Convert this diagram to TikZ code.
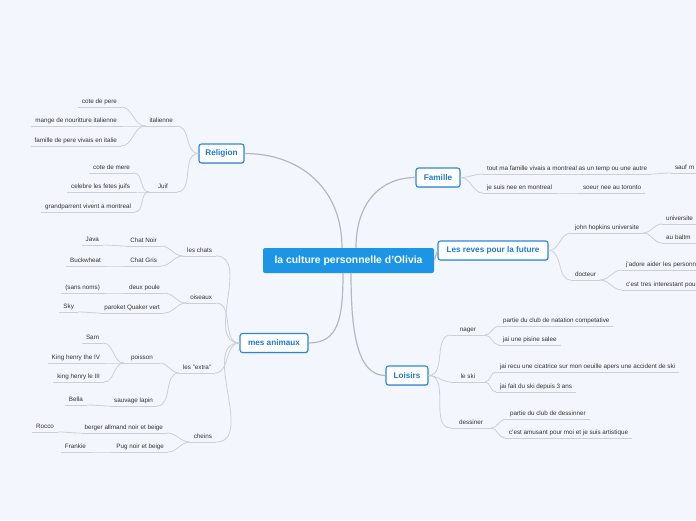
\documentclass[tikz,border=0pt]{standalone}
\usepackage{fontspec}
\setmainfont{Liberation Sans}
\usetikzlibrary{shadows}
\definecolor{bgc}{HTML}{F3F6FD}
\definecolor{cblue}{HTML}{1C95E7}
\definecolor{tborder}{HTML}{2C87DB}
\definecolor{ttext}{HTML}{1F7AD6}
\definecolor{mline}{HTML}{B4B8C2}
\definecolor{sline}{HTML}{CBCFD8}
\definecolor{txt}{HTML}{333333}
\tikzset{
  central/.style={fill=cblue, text=white, rounded corners=2pt, minimum width=171pt, minimum height=25pt, inner sep=0pt,
    font=\fontsize{10.4}{12}\selectfont\bfseries},
  topic/.style={draw=tborder, line width=1.1pt, fill=white, text=ttext, rounded corners=2.5pt, minimum height=19pt, inner sep=0pt,
    font=\fontsize{8.2}{10}\selectfont\bfseries, drop shadow={shadow xshift=0.4pt, shadow yshift=-0.9pt, opacity=0.25, fill=black!60}},
  uline/.style={draw=sline, line width=0.8pt},
  lab/.style={font=\fontsize{6.3}{7.5}\selectfont, text=txt, inner xsep=4pt, inner ysep=2.5pt, text height=4.8pt, text depth=1.5pt, outer sep=0pt,
    append after command={(\tikzlastnode.south west) edge[uline] (\tikzlastnode.south east)}},
  L/.style={lab, anchor=south east},
  R/.style={lab, anchor=south west},
  mconn/.style={draw=mline, line width=1.2pt},
  sconn/.style={draw=sline, line width=0.8pt},
}
\begin{document}
\begin{tikzpicture}[x=1pt,y=-1pt]
\useasboundingbox (0,0) rectangle (696,520);
\fill[bgc] (0,0) rectangle (696,520);
\clip (0,0) rectangle (696,520);

% central and main topics
\node[central] (center) at (348.5,260.5) {la culture personnelle d'Olivia};
\node[topic, minimum width=45pt] (religion) at (221.5,153.5) {Religion};
\node[topic, minimum width=44pt] (famille) at (438,177.5) {Famille};
\node[topic, minimum width=110pt] (reves) at (493,250.5) {Les reves pour la future};
\node[topic, minimum width=68pt] (animaux) at (274,343) {mes animaux};
\node[topic, minimum width=42pt] (loisirs) at (407,375.5) {Loisirs};

% main connectors
\draw[mconn] ([xshift=-6.5pt]center.north) .. controls +(0,-60) and +(55,0) .. (religion.east);
\draw[mconn] ([xshift=7.5pt]center.north) .. controls +(0,-45) and +(-35,0) .. (famille.west);
\draw[mconn] (center.east) -- (reves.west);
\draw[mconn] ([xshift=-5.5pt]center.south) .. controls +(0,45) and +(30,0) .. (animaux.east);
\draw[mconn] ([xshift=2.5pt]center.south) .. controls +(0,60) and +(-28,0) .. (loisirs.west);

% ---------- Religion ----------
\node[L] (g1) at (177,126) {italienne};
\node[L] (g1a) at (121,107) {cote de pere};
\node[L] (g1b) at (121,126) {mange de nouritture italienne};
\node[L] (g1c) at (121,146) {famille de pere vivais en italie};
\node[L, minimum width=28pt] (g2) at (177,192) {Juif};
\node[L] (g2a) at (134,173) {cote de mere};
\node[L] (g2b) at (134,192) {celebre les fetes juifs};
\node[L] (g2c) at (135,212) {grandparrent vivent a montreal};
\draw[sconn] (religion.west) to[out=180,in=0] (g1.south east);
\draw[sconn] (religion.west) to[out=180,in=0] (g2.south east);
\foreach \c in {g1a,g1b,g1c} \draw[sconn] (g1.south west) to[out=180,in=0] (\c.south east);
\foreach \c in {g2a,g2b,g2c} \draw[sconn] (g2.south west) to[out=180,in=0] (\c.south east);

% ---------- mes animaux ----------
\node[L] (a1) at (216,256) {les chats};
\node[L] (a1a) at (161,246) {Chat Noir};
\node[L] (a1a1) at (103,245) {Java};
\node[L] (a1b) at (161,266) {Chat Gris};
\node[L] (a1b1) at (105,266) {Buckwheat};
\node[L] (a2) at (216,303) {oiseaux};
\node[L] (a2a) at (164,293) {deux poule};
\node[L] (a2a1) at (104,293) {(sans noms)};
\node[L] (a2b) at (164,313) {paroket Quaker vert};
\node[L] (a2b1) at (78,312) {Sky};
\node[L] (a3) at (215,373) {les "extra"};
\node[L, minimum width=36pt] (a3a) at (160,363) {poisson};
\node[L] (a3a1) at (103,343) {Sam};
\node[L] (a3a2) at (104,363) {King henry the IV};
\node[L] (a3a3) at (104,382) {king henry le III};
\node[L] (a3b) at (157,406) {sauvage lapin};
\node[L] (a3b1) at (87,405) {Bella};
\node[L] (a4) at (216,442) {cheins};
\node[L] (a4a) at (167,433) {berger allmand noir et beige};
\node[L] (a4a1) at (58,432) {Rocco};
\node[L] (a4b) at (168,452) {Pug noir et beige};
\node[L] (a4b1) at (90,452) {Frankie};
\foreach \c in {a1,a2,a3,a4} \draw[sconn] (animaux.west) to[out=180,in=0] (\c.south east);
\foreach \p/\c in {a1/a1a,a1/a1b,a1a/a1a1,a1b/a1b1,a2/a2a,a2/a2b,a2a/a2a1,a2b/a2b1,a3/a3a,a3/a3b,a3a/a3a1,a3a/a3a2,a3a/a3a3,a3b/a3b1,a4/a4a,a4/a4b,a4a/a4a1,a4b/a4b1}
  \draw[sconn] (\p.south west) to[out=180,in=0] (\c.south east);

% ---------- Famille ----------
\node[R] (f1) at (483,174) {tout ma famille vivais a montreal as un temp ou une autre};
\node[R, text width=40pt, align=left] (f1a) at (671,173) {sauf m};
\node[R] (f2) at (483,193) {je suis nee en montreal};
\node[R] (f2a) at (579,193) {soeur nee au toronto};
\foreach \c in {f1,f2} \draw[sconn] (famille.east) to[out=0,in=180] (\c.south west);
\draw[sconn] (f1.south east) to[out=0,in=180] (f1a.south west);
\draw[sconn] (f2.south east) to[out=0,in=180] (f2a.south west);

% ---------- Reves ----------
\node[R] (r1) at (571,233) {john hopkins universite};
\node[R, text width=40pt, align=left] (r1a) at (662,224) {universite};
\node[R, text width=40pt, align=left] (r1b) at (662,243) {au baltm};
\node[R] (r2) at (571,280) {docteur};
\node[R, text width=90pt, align=left] (r2a) at (622,270) {j'adore aider les personn};
\node[R, text width=90pt, align=left] (r2b) at (622,290) {c'est tres interestant pou};
\foreach \c in {r1,r2} \draw[sconn] (reves.east) to[out=0,in=180] (\c.south west);
\foreach \c in {r1a,r1b} \draw[sconn] (r1.south east) to[out=0,in=180] (\c.south west);
\foreach \c in {r2a,r2b} \draw[sconn] (r2.south east) to[out=0,in=180] (\c.south west);

% ---------- Loisirs ----------
\node[R, minimum width=34pt] (l1) at (451,335) {nager};
\node[R] (l1a) at (499,326) {partie du club de natation competative};
\node[R] (l1b) at (499,345) {jai une pisine salee};
\node[R, minimum width=34pt] (l2) at (451,382) {le ski};
\node[R] (l2a) at (496,372) {jai recu une cicatrice sur mon oeuille apers une accident de ski};
\node[R] (l2b) at (496,392) {jai fait du ski depuis 3 ans};
\node[R, minimum width=40pt] (l3) at (451,428) {dessiner};
\node[R] (l3a) at (506,419) {partie du club de dessinner};
\node[R] (l3b) at (505,438) {c'est amusant pour moi et je suis artistique};
\foreach \c in {l1,l2,l3} \draw[sconn] (loisirs.east) to[out=0,in=180] (\c.south west);
\foreach \c in {l1a,l1b} \draw[sconn] (l1.south east) to[out=0,in=180] (\c.south west);
\foreach \c in {l2a,l2b} \draw[sconn] (l2.south east) to[out=0,in=180] (\c.south west);
\foreach \c in {l3a,l3b} \draw[sconn] (l3.south east) to[out=0,in=180] (\c.south west);
\end{tikzpicture}
\end{document}
